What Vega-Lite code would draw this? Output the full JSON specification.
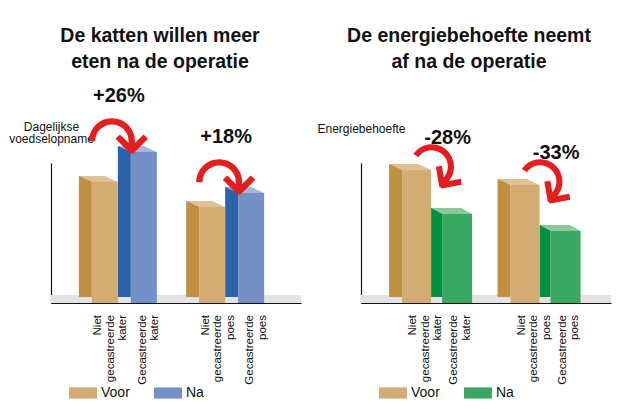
{
  "$schema": "https://vega.github.io/schema/vega-lite/v6.json",
  "padding": {"left": 8, "top": 25, "right": 5, "bottom": 5},
  "bounds": "flush",
  "spacing": 60,
  "background": "white",
  "config": {
    "view": {"stroke": null},
    "font": "Liberation Sans",
    "title": {"font": "Liberation Sans", "fontWeight": "bold", "fontSize": 19.5, "lineHeight": 26, "color": "#111"},
    "axisX": {"labels": false, "ticks": false, "grid": false, "title": null, "domainColor": "#111", "domainWidth": 1.2},
    "axisY": {"labels": false, "ticks": false, "grid": false, "domainColor": "#111", "domainWidth": 1.2, "titleAngle": 0, "titleAlign": "center", "titleBaseline": "middle", "titleX": 0, "titleFontWeight": "normal", "titleFontSize": 12, "titleLineHeight": 12.5, "titleColor": "#111", "titleFont": "Liberation Sans"},
    "legend": {"title": null, "orient": "none", "legendX": 18, "legendY": 216, "direction": "horizontal", "symbolType": "M-1,-0.4H1V0.4H-1Z", "symbolSize": 784, "symbolStrokeWidth": 0, "symbolOpacity": 1, "labelFontSize": 14, "labelColor": "#111", "labelOffset": 4, "columnPadding": 24}
  },
  "resolve": {"scale": {"color": "independent"}},
  "hconcat": [
    {
      "width": 250,
      "height": 140,
      "title": {"text": ["De katten willen meer", "eten na de operatie"], "anchor": "middle", "dx": -16, "offset": 14, "frame": "group"},
      "data": {"values": [
        {"cat": "kater", "grp": "Voor", "v": 121, "label": "Niet|gecastreerde|kater"},
        {"cat": "kater", "grp": "Na", "v": 151, "label": "Gecastreerde|kater"},
        {"cat": "poes", "grp": "Voor", "v": 96, "label": "Niet|gecastreerde|poes"},
        {"cat": "poes", "grp": "Na", "v": 110, "label": "Gecastreerde|poes"}
      ]},
      "layer": [
        {
          "mark": {"type": "rect", "color": "#e3e3e3"},
          "encoding": {
            "y": {"datum": 0, "type": "quantitative", "scale": {"domain": [0, 140]}, "axis": {"title": ["Dagelijkse", "voedselopname"], "titleY": -37}},
            "y2": {"datum": 8}
          }
        },
        {
          "transform": [{"filter": "datum.grp === 'Voor'"}],
          "mark": {"type": "bar", "width": 13, "xOffset": -32.5, "yOffset": -6, "color": "#bf8f42"},
          "encoding": {
            "x": {"field": "cat", "type": "nominal", "scale": {"paddingInner": 0.27, "paddingOuter": 0.3, "align": 0.43}},
            "y": {"field": "v", "type": "quantitative"}
          }
        },
        {
          "transform": [{"filter": "datum.grp === 'Na'"}],
          "mark": {"type": "bar", "width": 13, "xOffset": 6.5, "yOffset": -6, "color": "#2b63a8"},
          "encoding": {
            "x": {"field": "cat", "type": "nominal"},
            "y": {"field": "v", "type": "quantitative"}
          }
        },
        {
          "transform": [{"filter": "datum.grp === 'Voor'"}],
          "mark": {"type": "point", "filled": true, "opacity": 1, "strokeWidth": 0, "shape": "M-1,-0.154L0.333,-0.154L1,0.154L-0.333,0.154Z", "size": 1521, "xOffset": -19.5, "yOffset": -3, "color": "#dfc193"},
          "encoding": {
            "x": {"field": "cat", "type": "nominal"},
            "y": {"field": "v", "type": "quantitative"}
          }
        },
        {
          "transform": [{"filter": "datum.grp === 'Na'"}],
          "mark": {"type": "point", "filled": true, "opacity": 1, "strokeWidth": 0, "shape": "M-1,-0.154L0.333,-0.154L1,0.154L-0.333,0.154Z", "size": 1521, "xOffset": 19.5, "yOffset": -3, "color": "#a6b7dd"},
          "encoding": {
            "x": {"field": "cat", "type": "nominal"},
            "y": {"field": "v", "type": "quantitative"}
          }
        },
        {
          "transform": [{"filter": "datum.grp === 'Voor'"}],
          "mark": {"type": "bar", "width": 26, "xOffset": -13},
          "encoding": {
            "x": {"field": "cat", "type": "nominal"},
            "y": {"field": "v", "type": "quantitative"},
            "color": {"field": "grp", "type": "nominal", "scale": {"domain": ["Voor", "Na"], "range": ["#d3ac73", "#7490c7"]}}
          }
        },
        {
          "transform": [{"filter": "datum.grp === 'Na'"}],
          "mark": {"type": "bar", "width": 26, "xOffset": 26},
          "encoding": {
            "x": {"field": "cat", "type": "nominal"},
            "y": {"field": "v", "type": "quantitative"},
            "color": {"field": "grp", "type": "nominal", "scale": {"domain": ["Voor", "Na"], "range": ["#d3ac73", "#7490c7"]}}
          }
        },
        {
          "transform": [{"filter": "datum.grp === 'Voor'"}],
          "mark": {"type": "text", "angle": 270, "align": "right", "baseline": "middle", "xOffset": -19.5, "yOffset": 12, "lineBreak": "|", "lineHeight": 12.5, "fontSize": 11.5, "color": "#111"},
          "encoding": {
            "x": {"field": "cat", "type": "nominal"},
            "y": {"datum": 0, "type": "quantitative"},
            "text": {"field": "label"}
          }
        },
        {
          "transform": [{"filter": "datum.grp === 'Na'"}],
          "mark": {"type": "text", "angle": 270, "align": "right", "baseline": "middle", "xOffset": 25, "yOffset": 12, "lineBreak": "|", "lineHeight": 12.5, "fontSize": 11.5, "color": "#111"},
          "encoding": {
            "x": {"field": "cat", "type": "nominal"},
            "y": {"datum": 0, "type": "quantitative"},
            "text": {"field": "label"}
          }
        },
        {
          "data": {"values": [
            {"cat": "kater", "pct": "+26%", "v": 151},
            {"cat": "poes", "pct": "+18%", "v": 110}
          ]},
          "layer": [
            {
              "mark": {"type": "text", "font": "Liberation Sans", "fontSize": 20, "fontWeight": "bold", "yOffset": -56, "xOffset": 1, "color": "#111"},
              "encoding": {
                "x": {"field": "cat", "type": "nominal"},
                "y": {"field": "v", "type": "quantitative"},
                "text": {"field": "pct"}
              }
            },
            {
              "mark": {"type": "text", "text": "↷", "font": "DejaVu Sans", "fontSize": 76, "yOffset": -6, "color": "#e41e1e"},
              "encoding": {
                "x": {"field": "cat", "type": "nominal"},
                "y": {"field": "v", "type": "quantitative"}
              }
            }
          ]
        }
      ]
    },
    {
      "width": 250,
      "height": 140,
      "title": {"text": ["De  energiebehoefte neemt", "af na de operatie"], "anchor": "middle", "dx": -17, "offset": 50, "frame": "group"},
      "data": {"values": [
        {"cat": "kater", "grp": "Voor", "v": 133, "label": "Niet|gecastreerde|kater"},
        {"cat": "kater", "grp": "Na", "v": 89, "label": "Gecastreerde|kater"},
        {"cat": "poes", "grp": "Voor", "v": 118, "label": "Niet|gecastreerde|poes"},
        {"cat": "poes", "grp": "Na", "v": 72, "label": "Gecastreerde|poes"}
      ]},
      "layer": [
        {
          "mark": {"type": "rect", "color": "#e3e3e3"},
          "encoding": {
            "y": {"datum": 0, "type": "quantitative", "scale": {"domain": [0, 140]}, "axis": {"title": "Energiebehoefte", "titleY": -35}},
            "y2": {"datum": 8}
          }
        },
        {
          "transform": [{"filter": "datum.grp === 'Voor'"}],
          "mark": {"type": "bar", "width": 13, "xOffset": -35, "yOffset": -6, "color": "#bf8f42"},
          "encoding": {
            "x": {"field": "cat", "type": "nominal", "scale": {"paddingInner": 0.23, "paddingOuter": 0.267, "align": 0.48}},
            "y": {"field": "v", "type": "quantitative"}
          }
        },
        {
          "transform": [{"filter": "datum.grp === 'Na'"}],
          "mark": {"type": "bar", "width": 11, "xOffset": 6, "yOffset": -6, "color": "#00913f"},
          "encoding": {
            "x": {"field": "cat", "type": "nominal"},
            "y": {"field": "v", "type": "quantitative"}
          }
        },
        {
          "transform": [{"filter": "datum.grp === 'Voor'"}],
          "mark": {"type": "point", "filled": true, "opacity": 1, "strokeWidth": 0, "shape": "M-1,-0.143L0.381,-0.143L1,0.143L-0.381,0.143Z", "size": 1764, "xOffset": -20.5, "yOffset": -3, "color": "#dfc193"},
          "encoding": {
            "x": {"field": "cat", "type": "nominal"},
            "y": {"field": "v", "type": "quantitative"}
          }
        },
        {
          "transform": [{"filter": "datum.grp === 'Na'"}],
          "mark": {"type": "point", "filled": true, "opacity": 1, "strokeWidth": 0, "shape": "M-1,-0.146L0.463,-0.146L1,0.146L-0.463,0.146Z", "size": 1681, "xOffset": 21, "yOffset": -3, "color": "#8cc899"},
          "encoding": {
            "x": {"field": "cat", "type": "nominal"},
            "y": {"field": "v", "type": "quantitative"}
          }
        },
        {
          "transform": [{"filter": "datum.grp === 'Voor'"}],
          "mark": {"type": "bar", "width": 29, "xOffset": -14},
          "encoding": {
            "x": {"field": "cat", "type": "nominal"},
            "y": {"field": "v", "type": "quantitative"},
            "color": {"field": "grp", "type": "nominal", "scale": {"domain": ["Voor", "Na"], "range": ["#d3ac73", "#3aa862"]}}
          }
        },
        {
          "transform": [{"filter": "datum.grp === 'Na'"}],
          "mark": {"type": "bar", "width": 30, "xOffset": 26.5},
          "encoding": {
            "x": {"field": "cat", "type": "nominal"},
            "y": {"field": "v", "type": "quantitative"},
            "color": {"field": "grp", "type": "nominal", "scale": {"domain": ["Voor", "Na"], "range": ["#d3ac73", "#3aa862"]}}
          }
        },
        {
          "transform": [{"filter": "datum.grp === 'Voor'"}],
          "mark": {"type": "text", "angle": 270, "align": "right", "baseline": "middle", "xOffset": -17.5, "yOffset": 12, "lineBreak": "|", "lineHeight": 12.5, "fontSize": 11.5, "color": "#111"},
          "encoding": {
            "x": {"field": "cat", "type": "nominal"},
            "y": {"datum": 0, "type": "quantitative"},
            "text": {"field": "label"}
          }
        },
        {
          "transform": [{"filter": "datum.grp === 'Na'"}],
          "mark": {"type": "text", "angle": 270, "align": "right", "baseline": "middle", "xOffset": 23.5, "yOffset": 12, "lineBreak": "|", "lineHeight": 12.5, "fontSize": 11.5, "color": "#111"},
          "encoding": {
            "x": {"field": "cat", "type": "nominal"},
            "y": {"datum": 0, "type": "quantitative"},
            "text": {"field": "label"}
          }
        },
        {
          "data": {"values": [
            {"cat": "kater", "pct": "-28%", "v": 133},
            {"cat": "poes", "pct": "-33%", "v": 118}
          ]},
          "layer": [
            {
              "mark": {"type": "text", "font": "Liberation Sans", "fontSize": 20, "fontWeight": "bold", "yOffset": -32, "xOffset": 17, "color": "#111"},
              "encoding": {
                "x": {"field": "cat", "type": "nominal"},
                "y": {"field": "v", "type": "quantitative"},
                "text": {"field": "pct"}
              }
            },
            {
              "mark": {"type": "text", "text": "↷", "font": "DejaVu Sans", "fontSize": 74, "angle": 35, "yOffset": 4, "xOffset": 3, "color": "#e41e1e"},
              "encoding": {
                "x": {"field": "cat", "type": "nominal"},
                "y": {"field": "v", "type": "quantitative"}
              }
            }
          ]
        }
      ]
    }
  ]
}
